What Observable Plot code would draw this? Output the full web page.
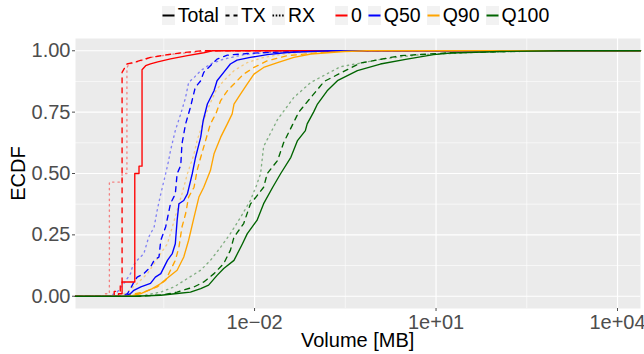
<!DOCTYPE html>
<html><head><meta charset="utf-8">
<script src="https://cdn.jsdelivr.net/npm/d3@7"></script>
<script src="https://cdn.jsdelivr.net/npm/@observablehq/plot@0.6"></script>
<style>
body{margin:0;background:#fff;font-family:"Liberation Sans",Arial,sans-serif;}
#wrap{position:relative;width:644px;height:354px;overflow:hidden;}
#legend{position:absolute;top:6px;left:0;width:644px;box-sizing:border-box;padding-left:73px;display:flex;justify-content:center;align-items:center;height:19px;font-size:19.5px;color:#000;}
.it{display:flex;align-items:center;margin-right:6px;}
.it svg{margin-right:3px;}
.gap{width:14px;}
.title{position:absolute;font-size:20px;color:#000;white-space:nowrap;}
</style>
</head><body>
<div id="wrap">
<div id="chart"></div>
<div id="legend"></div>
<div class="title" id="xt">Volume [MB]</div>
<div class="title" id="yt">ECDF</div>
</div>
<script>
// ---- data: each point is [log10(volume in MB), ECDF] ----
const groups = ["0", "Q50", "Q90", "Q100"];
const groupColors = ["#FF0000", "#0000FF", "#FFA500", "#006400"];
const types = ["Total", "TX", "RX"];

const redTotal = [[-4.25,0],[-4.25,0.01],[-4.19,0.01],[-4.19,0.058],[-3.98,0.058],[-3.98,0.5],[-3.91,0.5],[-3.91,0.53],[-3.86,0.53],[-3.86,0.923],[-3.80,0.939],[-3.72,0.947],[-3.60,0.955],[-3.39,0.967],[-3.11,0.98],[-2.84,0.992],[-2.70,1]];
const redTX = [[-4.32,0],[-4.32,0.02],[-4.22,0.02],[-4.22,0.05],[-4.19,0.05],[-4.19,0.912],[-4.11,0.946],[-4.0,0.952],[-3.72,0.973],[-3.44,0.984],[-3.17,0.993],[-2.89,1]];
const redRX = [[-4.47,0],[-4.47,0.01],[-4.40,0.01],[-4.40,0.465],[-4.19,0.465],[-4.19,0.5],[-4.11,0.5],[-4.11,0.93],[-4.08,0.946],[-3.94,0.955],[-3.72,0.973],[-3.33,0.987],[-2.89,0.997],[-2.6,1]];

const blueTotal = [[-4.15,0],[-4.05,0.011],[-3.995,0.024],[-3.88,0.038],[-3.72,0.052],[-3.64,0.078],[-3.55,0.092],[-3.44,0.146],[-3.36,0.174],[-3.31,0.214],[-3.28,0.309],[-3.25,0.377],[-3.17,0.39],[-3.11,0.417],[-3.03,0.499],[-2.98,0.561],[-2.89,0.648],[-2.85,0.715],[-2.78,0.783],[-2.67,0.837],[-2.62,0.878],[-2.51,0.912],[-2.40,0.946],[-2.29,0.962],[-2.07,0.973],[-1.79,0.984],[-1.46,0.993],[-1.07,0.997],[-0.74,1]];
const blueTX = [[-4.2,0],[-4.10,0.011],[-4.05,0.031],[-3.995,0.058],[-3.94,0.078],[-3.83,0.092],[-3.72,0.119],[-3.66,0.146],[-3.58,0.16],[-3.55,0.228],[-3.47,0.282],[-3.39,0.377],[-3.31,0.417],[-3.28,0.499],[-3.22,0.533],[-3.20,0.621],[-3.14,0.702],[-3.06,0.77],[-2.98,0.851],[-2.89,0.878],[-2.84,0.912],[-2.73,0.939],[-2.62,0.966],[-2.45,0.982],[-2.12,0.989],[-1.79,0.993],[-1.24,0.998],[-0.74,1]];
const blueRX = [[-4.4,0],[-4.27,0.017],[-4.16,0.052],[-4.05,0.092],[-4.02,0.119],[-3.94,0.146],[-3.83,0.174],[-3.75,0.241],[-3.66,0.282],[-3.61,0.35],[-3.55,0.417],[-3.47,0.499],[-3.42,0.553],[-3.39,0.593],[-3.31,0.675],[-3.22,0.743],[-3.14,0.81],[-3.09,0.871],[-3.00,0.891],[-2.89,0.919],[-2.73,0.946],[-2.51,0.966],[-2.18,0.984],[-1.79,0.993],[-1.24,0.998],[-0.74,1]];

const orangeTotal = [[-4.05,0],[-3.88,0.011],[-3.69,0.031],[-3.55,0.052],[-3.42,0.078],[-3.28,0.106],[-3.17,0.16],[-3.09,0.228],[-3.00,0.322],[-2.92,0.404],[-2.84,0.444],[-2.73,0.512],[-2.67,0.58],[-2.56,0.648],[-2.45,0.702],[-2.37,0.743],[-2.34,0.783],[-2.23,0.824],[-2.12,0.865],[-2.01,0.905],[-1.85,0.932],[-1.62,0.952],[-1.35,0.973],[-1.07,0.987],[-0.52,0.997],[-0.14,1]];
const orangeTX = [[-4.25,0],[-4.10,0.004],[-3.83,0.017],[-3.61,0.038],[-3.47,0.065],[-3.39,0.106],[-3.31,0.146],[-3.25,0.2],[-3.20,0.282],[-3.14,0.336],[-3.09,0.404],[-3.00,0.444],[-2.95,0.512],[-2.89,0.566],[-2.81,0.634],[-2.73,0.702],[-2.64,0.743],[-2.56,0.797],[-2.45,0.837],[-2.34,0.865],[-2.18,0.905],[-2.01,0.932],[-1.79,0.959],[-1.46,0.98],[-1.07,0.989],[-0.69,0.998],[-0.25,1]];
const orangeRX = [[-4.25,0],[-4.10,0.017],[-3.94,0.052],[-3.77,0.092],[-3.66,0.133],[-3.55,0.174],[-3.44,0.214],[-3.36,0.282],[-3.28,0.35],[-3.20,0.417],[-3.11,0.499],[-3.00,0.58],[-2.95,0.634],[-2.86,0.702],[-2.76,0.77],[-2.64,0.837],[-2.51,0.878],[-2.34,0.919],[-2.12,0.952],[-1.85,0.973],[-1.46,0.989],[-1.07,0.996],[-0.58,1]];

const greenTotal = [[-4.0,0],[-3.55,0.004],[-3.28,0.011],[-3.06,0.017],[-2.89,0.031],[-2.76,0.045],[-2.62,0.085],[-2.51,0.113],[-2.34,0.146],[-2.20,0.214],[-2.12,0.255],[-1.96,0.309],[-1.85,0.377],[-1.70,0.444],[-1.57,0.499],[-1.40,0.566],[-1.29,0.634],[-1.16,0.675],[-1.13,0.702],[-1.02,0.752],[-0.96,0.783],[-0.80,0.837],[-0.63,0.878],[-0.30,0.919],[0.08,0.946],[0.52,0.966],[0.96,0.984],[1.24,0.991],[2.07,0.997],[3.06,1]];
const greenTX = [[-3.9,0],[-3.50,0.006],[-3.28,0.017],[-3.00,0.038],[-2.84,0.058],[-2.67,0.092],[-2.51,0.133],[-2.40,0.187],[-2.34,0.241],[-2.18,0.296],[-2.07,0.375],[-1.85,0.444],[-1.79,0.5],[-1.62,0.553],[-1.52,0.625],[-1.27,0.75],[-0.85,0.875],[-0.25,0.95],[0.41,0.98],[1.24,0.992],[2.40,0.998],[3.06,1]];
const greenRX = [[-3.9,0],[-3.55,0.017],[-3.33,0.038],[-3.11,0.072],[-2.89,0.106],[-2.73,0.146],[-2.56,0.2],[-2.40,0.255],[-2.23,0.322],[-2.07,0.39],[-1.97,0.45],[-1.90,0.5],[-1.85,0.61],[-1.62,0.72],[-1.35,0.81],[-1.07,0.871],[-0.58,0.935],[0.13,0.967],[0.74,0.984],[1.74,0.994],[2.73,0.999],[3.06,1]];

const xTicks = [1e-2, 1e1, 1e4];
const yTicks = [0, 0.25, 0.5, 0.75, 1];
// ---- end data ----

const curves = [
  ["0","Total",redTotal],["0","TX",redTX],["0","RX",redRX],
  ["Q50","Total",blueTotal],["Q50","TX",blueTX],["Q50","RX",blueRX],
  ["Q90","Total",orangeTotal],["Q90","TX",orangeTX],["Q90","RX",orangeRX],
  ["Q100","Total",greenTotal],["Q100","TX",greenTX],["Q100","RX",greenRX]
];
const LOG_MIN = -4.96, LOG_MAX = 4.38;
const rows = curves.flatMap(([g, t, pts]) =>
  [[LOG_MIN, 0], ...pts, [LOG_MAX, 1]].map(([lg, p]) => ({group: g, type: t, key: g + "|" + t, volume: Math.pow(10, lg), ecdf: p})));

const xMinor = xTicks.map(v => v / Math.sqrt(1000));
const yMinor = yTicks.slice(1).map(v => v - 0.125);

const dash = {Total: null, TX: "5,5", RX: "1.4,4"};
const opac = {Total: 1, TX: 1, RX: 0.45};
const fmtX = v => { const e = Math.round(Math.log10(v)); return "1e" + (e < 0 ? "\u2212" : "+") + String(Math.abs(e)).padStart(2, "0"); };

const lineMarks = ["RX", "TX", "Total"].map(t => Plot.line(rows.filter(d => d.type === t), {
  x: "volume", y: "ecdf", z: "key", stroke: "group",
  strokeWidth: 1.35, strokeDasharray: dash[t], strokeOpacity: opac[t], curve: "linear"
}));

const chart = Plot.plot({
  width: 644, height: 354,
  marginLeft: 75, marginRight: 4, marginTop: 38, marginBottom: 46,
  style: {fontFamily: '"Liberation Sans", Arial, sans-serif', background: "transparent", overflow: "visible"},
  x: {type: "log", domain: [Math.pow(10, LOG_MIN), Math.pow(10, LOG_MAX)]},
  y: {domain: [-0.05, 1.05]},
  color: {domain: groups, range: groupColors},
  marks: [
    Plot.frame({fill: "#EBEBEB", stroke: null}),
    Plot.ruleX(xMinor, {stroke: "white", strokeWidth: 0.6}),
    Plot.ruleY(yMinor, {stroke: "white", strokeWidth: 0.6}),
    Plot.ruleX(xTicks, {stroke: "white", strokeWidth: 1.2}),
    Plot.ruleY(yTicks, {stroke: "white", strokeWidth: 1.2}),
    ...lineMarks,
    Plot.axisX({ticks: xTicks, tickFormat: fmtX, tickSize: 3, tickPadding: 3, fontSize: 20, color: "#4D4D4D", label: null}),
    Plot.axisY({ticks: yTicks, tickFormat: d3.format(".2f"), tickSize: 3, tickPadding: 2, fontSize: 20, color: "#4D4D4D", label: null})
  ]
});
document.getElementById("chart").appendChild(chart);

// legend
const leg = document.getElementById("legend");
function keySvg(color, da) {
  return `<svg width="13" height="19"><rect width="13" height="19" fill="#F2F2F2"/><line x1="0.5" x2="12.5" y1="9.5" y2="9.5" stroke="${color}" stroke-width="2" ${da ? `stroke-dasharray="${da}"` : ""}/></svg>`;
}
let html = "";
types.forEach(t => { html += `<div class="it">${keySvg("#000", t === "TX" ? "4,4" : t === "RX" ? "1.6,1.6" : null)}<span>${t}</span></div>`; });
html += `<div class="gap"></div>`;
groups.forEach((g, i) => { html += `<div class="it">${keySvg(groupColors[i], null)}<span>${g}</span></div>`; });
leg.innerHTML = html;

const xt = document.getElementById("xt"), yt = document.getElementById("yt");
xt.style.left = (357.5 - xt.offsetWidth / 2) + "px"; xt.style.top = (340 - xt.offsetHeight / 2) + "px";
yt.style.left = (18 - yt.offsetWidth / 2) + "px"; yt.style.top = (173 - yt.offsetHeight / 2) + "px";
yt.style.transform = "rotate(-90deg)";
</script>
</body></html>
